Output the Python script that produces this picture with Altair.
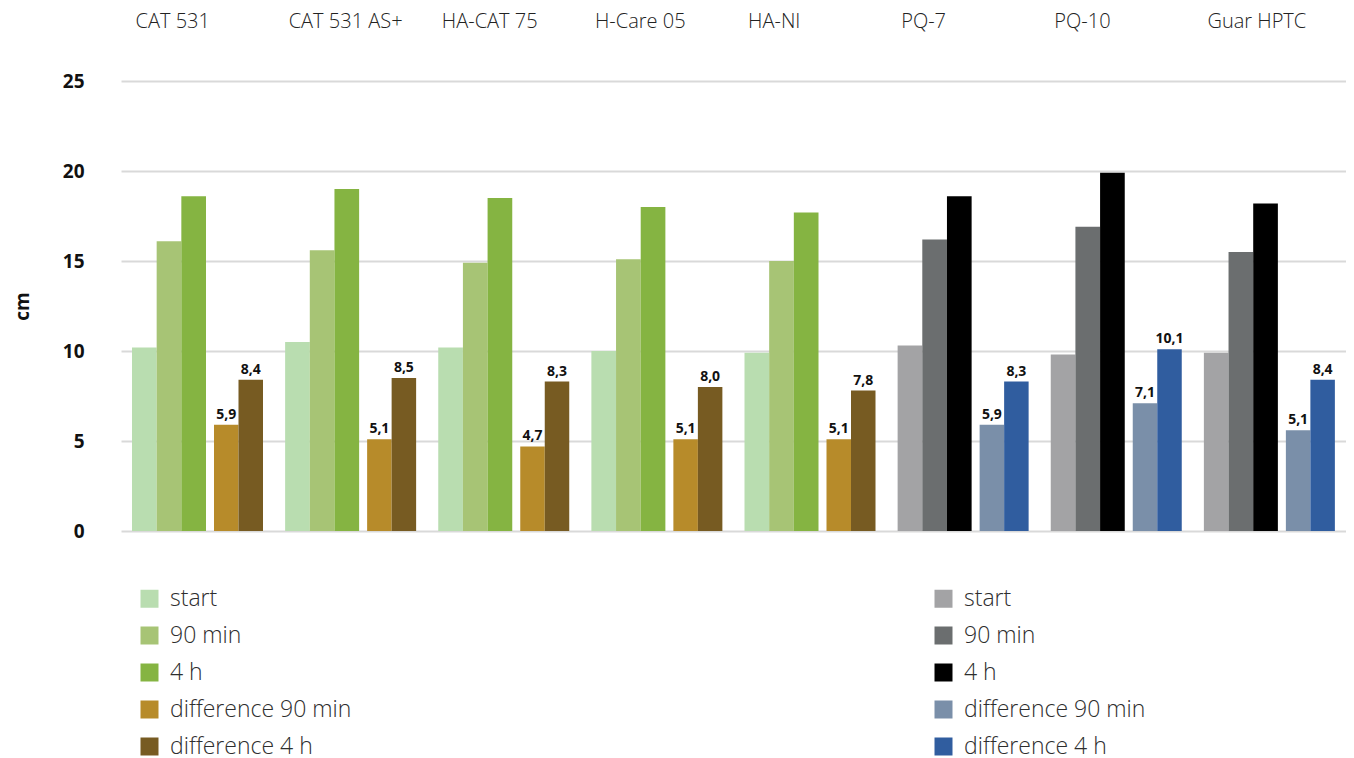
import altair as alt
import pandas as pd

groups = ["CAT 531", "CAT 531 AS+", "HA-CAT 75", "H-Care 05", "HA-NI", "PQ-7", "PQ-10", "Guar HPTC"]
families = ["A", "A", "A", "A", "A", "B", "B", "B"]
series_names = ["start", "90 min", "4 h", "difference 90 min", "difference 4 h"]

start = [10.2, 10.5, 10.2, 10.0, 9.9, 10.3, 9.8, 9.9]
min90 = [16.1, 15.6, 14.9, 15.1, 15.0, 16.2, 16.9, 15.5]
h4 = [18.6, 19.0, 18.5, 18.0, 17.7, 18.6, 19.9, 18.2]
diff90 = [5.9, 5.1, 4.7, 5.1, 5.1, 5.9, 7.1, 5.6]
diff4h = [8.4, 8.5, 8.3, 8.0, 7.8, 8.3, 10.1, 8.4]
diff90_labels = ["5,9", "5,1", "4,7", "5,1", "5,1", "5,9", "7,1", "5,1"]
diff4h_labels = ["8,4", "8,5", "8,3", "8,0", "7,8", "8,3", "10,1", "8,4"]

colors_A = ["#b9ddb0", "#a7c475", "#85b442", "#b78b2a", "#775b22"]
colors_B = ["#a3a3a5", "#6b6e6f", "#000000", "#7a8fa9", "#305d9f"]

rows = []
all_vals = [start, min90, h4, diff90, diff4h]
all_labels = [None, None, None, diff90_labels, diff4h_labels]
for i, g in enumerate(groups):
    for j, s in enumerate(series_names):
        rows.append({
            "group": g,
            "series": s,
            "value": all_vals[j][i],
            "key": families[i] + "|" + s,
            "label": all_labels[j][i] if all_labels[j] else "",
        })
df = pd.DataFrame(rows)

color_domain = ["A|" + s for s in series_names] + ["B|" + s for s in series_names]
color_range = colors_A + colors_B

FONT = "Open Sans"

x_enc = alt.X(
    "group:N",
    sort=groups,
    scale=alt.Scale(domain=groups, paddingInner=0, paddingOuter=0),
    axis=alt.Axis(
        orient="top", title=None, ticks=False, tickSize=0, domain=False, grid=False,
        labelAngle=0, labelAlign="left", labelOffset=-62, labelPadding=50,
        labelFontSize=20, labelFont=FONT, labelFontWeight=300, labelColor="#222222",
        labelBaseline="bottom",
    ),
)
y_enc = alt.Y(
    "value:Q",
    scale=alt.Scale(domain=[0, 25]),
    axis=alt.Axis(
        values=[0, 5, 10, 15, 20, 25], title="cm", domain=False, ticks=False, tickSize=0,
        grid=True, gridColor="#d9d9d9", gridWidth=2,
        labelFontSize=19, labelFontWeight="bold", labelFont=FONT, labelColor="#111111",
        labelPadding=37, titleFontSize=19, titleFontWeight="bold", titleFont=FONT,
        titleColor="#111111", titlePadding=30,
    ),
)
color_enc = alt.Color(
    "key:N",
    scale=alt.Scale(domain=color_domain, range=color_range),
    legend=alt.Legend(
        title=None, orient="none", legendX=17, legendY=506, columns=2,
        columnPadding=580, rowPadding=13, padding=0,
        symbolType="square", symbolSize=324, symbolStrokeWidth=0, symbolOffset=0,
        labelFontSize=23, labelFont=FONT, labelFontWeight=300, labelColor="#2e2e2e",
        labelOffset=9, labelExpr="split(datum.label, '|')[1]", labelLimit=400,
    ),
)

base = alt.Chart(df)

layer_a = base.transform_filter(
    alt.FieldOneOfPredicate(field="series", oneOf=series_names[:3])
).mark_bar().encode(
    x=x_enc, y=y_enc, color=color_enc,
    xOffset=alt.XOffset("series:N", sort=series_names[:3],
                        scale=alt.Scale(domain=series_names[:3], range=[11, 85],
                                        paddingInner=0, paddingOuter=0)),
)

xoff_b = alt.XOffset("series:N", sort=series_names[3:],
                     scale=alt.Scale(domain=series_names[3:], range=[93, 142],
                                     paddingInner=0, paddingOuter=0))

b_base = base.transform_filter(
    alt.FieldOneOfPredicate(field="series", oneOf=series_names[3:])
)
layer_b = b_base.mark_bar().encode(x=x_enc, y=y_enc, color=color_enc, xOffset=xoff_b)
text_b = b_base.mark_text(
    baseline="bottom", dy=-3, fontSize=14, fontWeight="bold", font=FONT, color="#111111"
).encode(x=x_enc, y=y_enc, xOffset=xoff_b, text="label:N")

chart = alt.layer(
    layer_a, alt.layer(layer_b, text_b)
).resolve_scale(xOffset="independent").properties(
    width=1225, height=450,
    autosize=alt.AutoSizeParams(type="none"),
    padding={"left": 113, "top": 73, "right": 0, "bottom": 228},
).configure_view(stroke=None)

chart.save("out.html", embed_options={"renderer": "svg", "actions": False})
